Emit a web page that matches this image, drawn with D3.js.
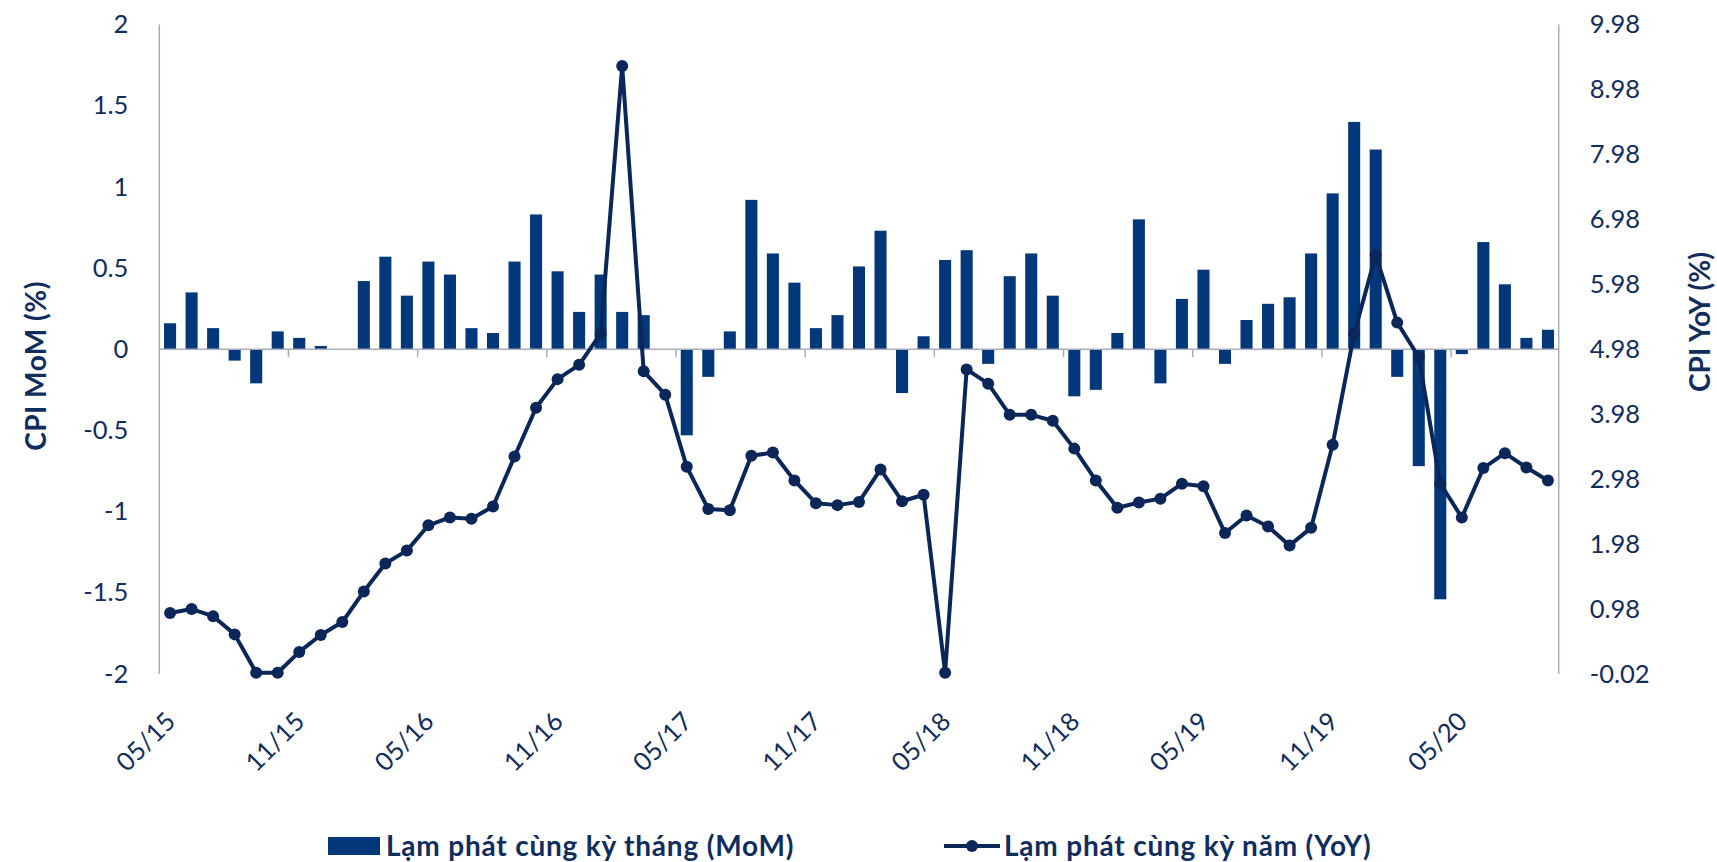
<!DOCTYPE html>
<html>
<head>
<meta charset="utf-8">
<script src="https://cdnjs.cloudflare.com/ajax/libs/d3/7.8.5/d3.min.js"></script>
<style>
  html, body { margin: 0; padding: 0; background: #ffffff; }
  svg { display: block; font-family: Lato, "Open Sans", sans-serif; }
</style>
</head>
<body>
<div id="chart"></div>
<script>
// ============================================
// DATA
// ============================================

const months = [
  "05/15", "06/15", "07/15", "08/15", "09/15", "10/15", "11/15", "12/15",
  "01/16", "02/16", "03/16", "04/16", "05/16", "06/16", "07/16", "08/16", "09/16", "10/16", "11/16", "12/16",
  "01/17", "02/17", "03/17", "04/17", "05/17", "06/17", "07/17", "08/17", "09/17", "10/17", "11/17", "12/17",
  "01/18", "02/18", "03/18", "04/18", "05/18", "06/18", "07/18", "08/18", "09/18", "10/18", "11/18", "12/18",
  "01/19", "02/19", "03/19", "04/19", "05/19", "06/19", "07/19", "08/19", "09/19", "10/19", "11/19", "12/19",
  "01/20", "02/20", "03/20", "04/20", "05/20", "06/20", "07/20", "08/20", "09/20",
];

// CPI month-on-month (%), bars, left axis
const momValues = [
  0.16, 0.35, 0.13, -0.07, -0.21, 0.11, 0.07, 0.02,
  0.0, 0.42, 0.57, 0.33, 0.54, 0.46, 0.13, 0.1, 0.54, 0.83, 0.48, 0.23,
  0.46, 0.23, 0.21, 0.0, -0.53, -0.17, 0.11, 0.92, 0.59, 0.41, 0.13, 0.21,
  0.51, 0.73, -0.27, 0.08, 0.55, 0.61, -0.09, 0.45, 0.59, 0.33, -0.29, -0.25,
  0.1, 0.8, -0.21, 0.31, 0.49, -0.09, 0.18, 0.28, 0.32, 0.59, 0.96, 1.4,
  1.23, -0.17, -0.72, -1.54, -0.03, 0.66, 0.4, 0.07, 0.12,
];

// CPI year-on-year (%), line, right axis
const yoyValues = [
  0.92, 0.98, 0.87, 0.59, 0.0, 0.0, 0.32, 0.58,
  0.78, 1.25, 1.68, 1.88, 2.27, 2.39, 2.37, 2.56, 3.33, 4.08, 4.52, 4.74,
  5.22, 9.34, 4.64, 4.28, 3.17, 2.52, 2.5, 3.34, 3.39, 2.96, 2.61, 2.58,
  2.63, 3.13, 2.64, 2.74, 0.0, 4.67, 4.45, 3.97, 3.97, 3.88, 3.45, 2.96,
  2.54, 2.62, 2.68, 2.91, 2.87, 2.15, 2.42, 2.25, 1.96, 2.23, 3.51, 5.22,
  6.43, 5.39, 4.86, 2.91, 2.39, 3.15, 3.38, 3.16, 2.96,
];

const leftTicks = [2, 1.5, 1, 0.5, 0, -0.5, -1, -1.5, -2];
const rightTicks = [9.98, 8.98, 7.98, 6.98, 5.98, 4.98, 3.98, 2.98, 1.98, 0.98, -0.02];
const xLabelMonths = ["05/15", "11/15", "05/16", "11/16", "05/17", "11/17", "05/18", "11/18", "05/19", "11/19", "05/20"];

const leftTitle = "CPI MoM (%)";
const rightTitle = "CPI YoY (%)";
const legendItems = ["Lạm phát cùng kỳ tháng (MoM)", "Lạm phát cùng kỳ năm (YoY)"];

// ============================================
// LAYOUT & STYLE
// ============================================

const WIDTH = 1717;
const HEIGHT = 862;
const plot = { left: 159.3, right: 1558.7, top: 24.5, bottom: 674 };

const BAR_COLOR = "#02377a";
const LINE_COLOR = "#0b2659";
const TEXT_COLOR = "#112d5e";
const AXIS_COLOR = "#a9acbb";

const svg = d3
  .select("#chart")
  .append("svg")
  .attr("width", WIDTH)
  .attr("height", HEIGHT);

// scales
const x = d3
  .scaleBand()
  .domain(months)
  .range([plot.left, plot.right])
  .paddingInner(0.44)
  .paddingOuter(0.22);

const yLeft = d3.scaleLinear().domain([-2, 2]).range([plot.bottom, plot.top]);
const yRight = d3.scaleLinear().domain([-0.02, 9.98]).range([plot.bottom, plot.top]);

const step = x.step();
const center = (m) => x(m) + x.bandwidth() / 2;

// ============================================
// AXES
// ============================================

// left axis labels
const leftAxis = svg
  .append("g")
  .attr("transform", `translate(${plot.left},0)`)
  .call(
    d3.axisLeft(yLeft).tickValues(leftTicks).tickSize(0).tickPadding(31)
      .tickFormat((d) => String(d))
  );
leftAxis.select(".domain").remove();
leftAxis.selectAll("text")
  .style("font-size", "25.5px")
  .style("font-family", "Lato")
  .attr("fill", TEXT_COLOR);

// right axis labels
const rightAxis = svg
  .append("g")
  .attr("transform", `translate(${plot.right},0)`)
  .call(
    d3.axisRight(yRight).tickValues(rightTicks).tickSize(0).tickPadding(31)
      .tickFormat((d) => d.toFixed(2))
  );
rightAxis.select(".domain").remove();
rightAxis.selectAll("text")
  .style("font-size", "25.5px")
  .style("font-family", "Lato")
  .attr("fill", TEXT_COLOR);

// vertical axis lines
svg.append("line")
  .attr("x1", plot.left).attr("x2", plot.left)
  .attr("y1", plot.top).attr("y2", plot.bottom)
  .attr("stroke", AXIS_COLOR).attr("stroke-width", 1.5);

svg.append("line")
  .attr("x1", plot.right).attr("x2", plot.right)
  .attr("y1", plot.top).attr("y2", plot.bottom)
  .attr("stroke", AXIS_COLOR).attr("stroke-width", 1.5);

// bars
svg.append("g")
  .selectAll("rect")
  .data(momValues)
  .join("rect")
  .attr("x", (d, i) => x(months[i]))
  .attr("width", x.bandwidth())
  .attr("y", (d) => yLeft(Math.max(0, d)))
  .attr("height", (d) => Math.abs(yLeft(d) - yLeft(0)))
  .attr("fill", BAR_COLOR);

// zero line with tick marks every 6 months
const zeroY = yLeft(0);
svg.append("line")
  .attr("x1", plot.left).attr("x2", plot.right)
  .attr("y1", zeroY).attr("y2", zeroY)
  .attr("stroke", AXIS_COLOR).attr("stroke-width", 1.5);

svg.append("g")
  .selectAll("line")
  .data(months.filter((m, i) => i > 0 && i % 6 === 0))
  .join("line")
  .attr("x1", (m) => x(m) - (step - x.bandwidth()) / 2)
  .attr("x2", (m) => x(m) - (step - x.bandwidth()) / 2)
  .attr("y1", zeroY)
  .attr("y2", zeroY + 8)
  .attr("stroke", AXIS_COLOR)
  .attr("stroke-width", 1.5);

// category labels along the bottom
svg.append("g")
  .selectAll("text")
  .data(xLabelMonths)
  .join("text")
  .attr("transform", (m) => `translate(${center(m) + 7},${plot.bottom + 49}) rotate(-45)`)
  .attr("text-anchor", "end")
  .attr("fill", TEXT_COLOR)
  .style("font-size", "25.5px")
  .text((m) => m);

// ============================================
// YOY LINE
// ============================================

const line = d3
  .line()
  .x((d, i) => center(months[i]))
  .y((d) => yRight(d));

svg.append("path")
  .datum(yoyValues)
  .attr("d", line)
  .attr("fill", "none")
  .attr("stroke", LINE_COLOR)
  .attr("stroke-width", 4)
  .attr("stroke-linejoin", "round");

svg.append("g")
  .selectAll("circle")
  .data(yoyValues)
  .join("circle")
  .attr("cx", (d, i) => center(months[i]))
  .attr("cy", (d) => yRight(d))
  .attr("r", 6)
  .attr("fill", LINE_COLOR);

// ============================================
// AXIS TITLES
// ============================================

svg.append("text")
  .attr("transform", "translate(46,366) rotate(-90)")
  .attr("text-anchor", "middle")
  .attr("fill", TEXT_COLOR)
  .style("font-size", "28px")
  .style("font-weight", "bold")
  .style("letter-spacing", "0.5px")
  .text(leftTitle);

svg.append("text")
  .attr("transform", "translate(1710,322) rotate(-90)")
  .attr("text-anchor", "middle")
  .attr("fill", TEXT_COLOR)
  .style("font-size", "28px")
  .style("font-weight", "bold")
  .text(rightTitle);

// ============================================
// LEGEND
// ============================================

const legend = svg.append("g");
legend.append("rect")
  .attr("x", 328).attr("y", 837)
  .attr("width", 52).attr("height", 18)
  .attr("fill", BAR_COLOR);
legend.append("text")
  .attr("x", 386).attr("y", 856)
  .attr("fill", TEXT_COLOR)
  .style("font-size", "28px")
  .style("font-weight", "bold")
  .style("letter-spacing", "0.8px")
  .text(legendItems[0]);

legend.append("line")
  .attr("x1", 944).attr("x2", 1000)
  .attr("y1", 846).attr("y2", 846)
  .attr("stroke", LINE_COLOR).attr("stroke-width", 4);
legend.append("circle")
  .attr("cx", 972).attr("cy", 846).attr("r", 6)
  .attr("fill", LINE_COLOR);
legend.append("text")
  .attr("x", 1004).attr("y", 856)
  .attr("fill", TEXT_COLOR)
  .style("font-size", "28px")
  .style("font-weight", "bold")
  .style("letter-spacing", "0.8px")
  .text(legendItems[1]);
</script>
</body>
</html>
